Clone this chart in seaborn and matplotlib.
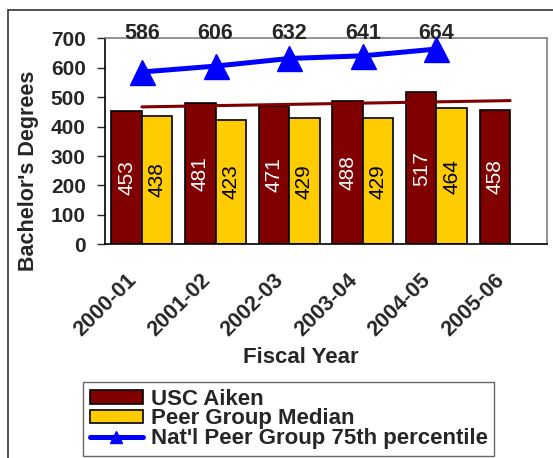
import numpy as np
import pandas as pd
import matplotlib
matplotlib.use("Agg")
import matplotlib.pyplot as plt
import matplotlib.transforms as mtransforms
from matplotlib.patches import Patch, Rectangle
from matplotlib.lines import Line2D
import seaborn as sns

# Bachelor's degrees awarded per fiscal year
years = ["2000-01", "2001-02", "2002-03", "2003-04", "2004-05", "2005-06"]
usc_aiken = [453, 481, 471, 488, 517, 458]
peer_median = [438, 423, 429, 429, 464, np.nan]
natl_75th = [586, 606, 632, 641, 664]
y_ticks = [0, 100, 200, 300, 400, 500, 600, 700]

series_names = ["USC Aiken", "Peer Group Median", "Nat'l Peer Group 75th percentile"]
bar_colors = ["#800000", "#FFCC00"]
line_color = "#0000FF"
trend_color = "#800000"

sns.set_style("white")
plt.rcParams["font.family"] = ["Liberation Sans", "DejaVu Sans"]

df = pd.DataFrame({
    "Fiscal Year": years * 2,
    "Degrees": usc_aiken + peer_median,
    "Series": [series_names[0]] * len(years) + [series_names[1]] * len(years),
}).dropna()

fig = plt.figure(figsize=(5.53, 4.58), dpi=100)
ax = fig.add_axes([0.190, 0.4666, 0.799, 0.4494])

sns.barplot(data=df, x="Fiscal Year", y="Degrees", hue="Series",
            order=years, hue_order=series_names[:2], palette=bar_colors,
            width=0.83, edgecolor="black", linewidth=1.2, saturation=1,
            errorbar=None, legend=False, ax=ax)

# values written vertically inside the bars
for container, txt_color in zip(ax.containers, ["white", "black"]):
    ax.bar_label(container, labels=[f"{v:.0f}" for v in container.datavalues],
                 label_type="center", rotation=90, color=txt_color, fontsize=15)

# linear trend of the USC Aiken series
sns.regplot(x=np.arange(len(years)), y=usc_aiken, scatter=False, ci=None,
            truncate=True, color=trend_color,
            line_kws={"linewidth": 2.2, "zorder": 3}, ax=ax)

# national 75th percentile line
sns.lineplot(x=np.arange(len(natl_75th)), y=natl_75th, color=line_color,
             linewidth=3.6, marker="^", markersize=18, markeredgecolor=line_color,
             markeredgewidth=1, ax=ax, zorder=5)

trans = mtransforms.blended_transform_factory(ax.transData, ax.transAxes)
for i, v in enumerate(natl_75th):
    ax.text(i, 1.022, f"{v}", transform=trans, ha="center", va="center",
            fontsize=15.5, fontweight="bold", clip_on=False)

ax.set_xlim(-0.5, len(years) - 0.5)
ax.set_ylim(0, 700)
ax.set_yticks(y_ticks)
ax.set_yticklabels([str(t) for t in y_ticks], fontsize=15, fontweight="bold")
ax.tick_params(axis="y", left=True, direction="out", length=6, width=1, pad=8.0)

ax.set_xticks(range(len(years)))
ax.set_xticklabels(years, rotation=45, ha="right", va="top",
                   rotation_mode="anchor", fontsize=15.5, fontweight="bold")
ax.tick_params(axis="x", bottom=False, length=0, pad=18.0)
shift = mtransforms.ScaledTranslation(-16 / 100, 0, fig.dpi_scale_trans)
for lbl in ax.get_xticklabels():
    lbl.set_transform(lbl.get_transform() + shift)

ax.set_ylabel("Bachelor's Degrees", fontsize=15.5, fontweight="bold", va="center")
ax.yaxis.set_label_coords(-0.173, 0.356)
ax.set_xlabel("Fiscal Year", fontsize=16, fontweight="bold", va="center")
ax.xaxis.set_label_coords(0.443, -0.550)

for side in ["left", "bottom"]:
    ax.spines[side].set_color("black")
    ax.spines[side].set_linewidth(1.2)
for side in ["top", "right"]:
    ax.spines[side].set_color("#808080")
    ax.spines[side].set_linewidth(1.2)
    ax.spines[side].set_visible(True)

handles = [
    Patch(facecolor=bar_colors[0], edgecolor="black", linewidth=1.2, label=series_names[0]),
    Patch(facecolor=bar_colors[1], edgecolor="black", linewidth=1.2, label=series_names[1]),
    Line2D([], [], color=line_color, linewidth=3.6, marker="^", markersize=9,
           label=series_names[2]),
]
leg = fig.legend(handles=handles, loc="upper left",
                 bbox_to_anchor=(83 / 553, (458 - 382) / 458),
                 bbox_transform=fig.transFigure,
                 prop={"size": 16, "weight": "bold"}, frameon=True,
                 fancybox=False, edgecolor="#404040", borderpad=0.3,
                 labelspacing=-0.06, handlelength=2.4, handleheight=0.55,
                 handletextpad=0.35, borderaxespad=0)
leg.get_frame().set_linewidth(1.0)

# outer chart border
fig.add_artist(Rectangle((8 / 553, -0.05), 1.0, (458 - 10) / 458 + 0.05,
                         transform=fig.transFigure, fill=False,
                         edgecolor="#333333", linewidth=1.2))

fig.savefig("out.png", dpi=100)
